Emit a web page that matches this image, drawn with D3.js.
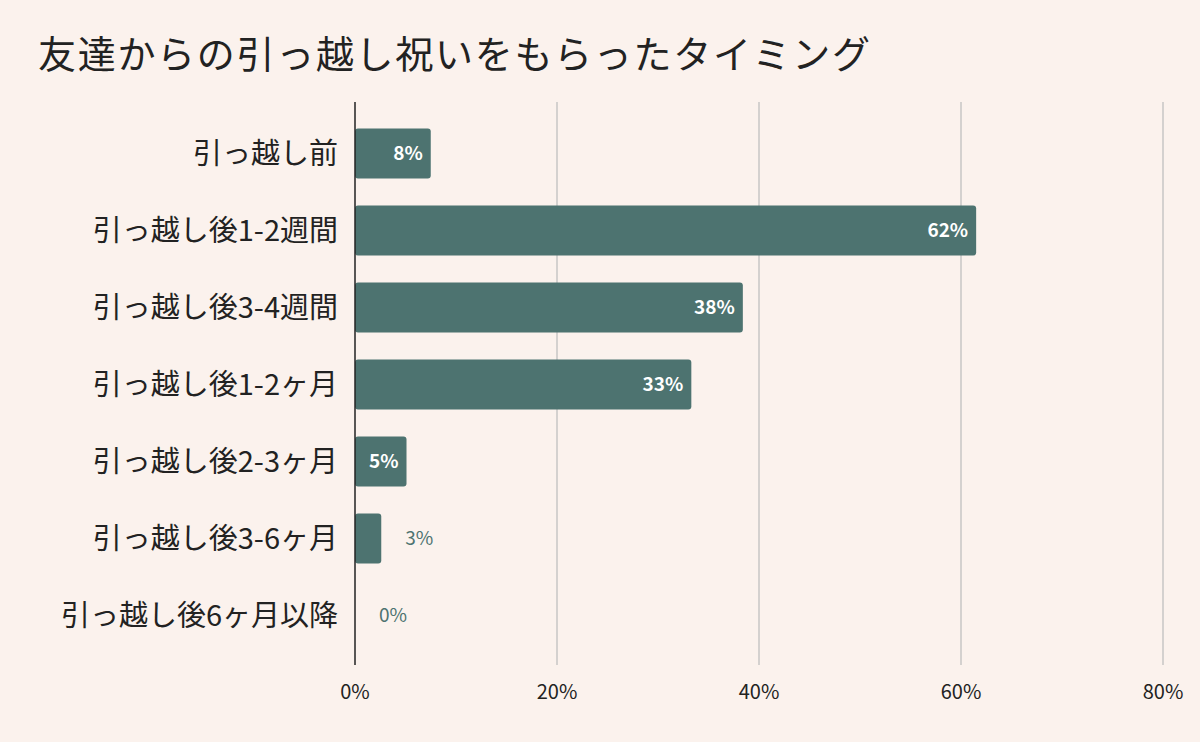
<!DOCTYPE html>
<html><head><meta charset="utf-8">
<script src="https://cdn.jsdelivr.net/npm/d3@7"></script>
<style>
body{margin:0;background:#fbf2ed;}
text{font-family:"Noto Sans CJK JP","Noto Sans",sans-serif;}
</style></head><body>
<div id="chart"></div>
<script>
const categories = ['引っ越し前','引っ越し後1-2週間','引っ越し後3-4週間','引っ越し後1-2ヶ月','引っ越し後2-3ヶ月','引っ越し後3-6ヶ月','引っ越し後6ヶ月以降'];
const values = [7.5, 61.5, 38.4, 33.3, 5.1, 2.6, 0];
const valueLabels = ['8%','62%','38%','33%','5%','3%','0%'];
const ticks = [0, 20, 40, 60, 80];
const title = '友達からの引っ越し祝いをもらったタイミング';

const W = 1200, H = 742;
const barColor = '#4d7370';
const svg = d3.select('#chart').append('svg').attr('width', W).attr('height', H);
svg.append('rect').attr('width', W).attr('height', H).attr('fill', '#fbf2ed');

svg.append('text').attr('x', 38).attr('y', 68).attr('font-size', 38)
  .attr('textLength', 832).attr('fill', '#222').text(title);

const x = d3.scaleLinear().domain([0, 80]).range([355, 1163]);
const y = d3.scaleBand().domain(categories).range([115, 654]).paddingInner(0.35).paddingOuter(0.175);

// gridlines
svg.selectAll('.grid').data(ticks.slice(1)).enter().append('line')
  .attr('x1', d => x(d)).attr('x2', d => x(d)).attr('y1', 102).attr('y2', 665)
  .attr('stroke', '#bbb').attr('stroke-width', 1.2);

// x axis labels
svg.selectAll('.tick').data(ticks).enter().append('text')
  .attr('x', d => x(d)).attr('y', 699).attr('text-anchor', 'middle')
  .attr('font-size', 20).attr('fill', '#222').text(d => d + '%');

// bars
svg.selectAll('.bar').data(values).enter().append('rect')
  .attr('x', x(0)).attr('y', (d, i) => y(categories[i]))
  .attr('width', d => x(d) - x(0)).attr('height', y.bandwidth())
  .attr('rx', 3).attr('fill', barColor);

// value labels
svg.selectAll('.val').data(values).enter().append('text')
  .attr('x', d => d >= 5 ? x(d) - 8 : x(d) + 24)
  .attr('y', (d, i) => y(categories[i]) + y.bandwidth() / 2)
  .attr('dy', '0.35em')
  .attr('text-anchor', d => d >= 5 ? 'end' : 'start')
  .attr('font-size', 19).attr('font-weight', d => d >= 5 ? 'bold' : 'normal')
  .attr('fill', d => d >= 5 ? '#fff' : barColor)
  .text((d, i) => valueLabels[i]);

// category labels
svg.selectAll('.cat').data(categories).enter().append('text')
  .attr('x', 338).attr('y', d => y(d) + y.bandwidth() / 2).attr('dy', '0.36em')
  .attr('text-anchor', 'end').attr('font-size', 29).attr('fill', '#222').text(d => d);

// y axis line
svg.append('line').attr('x1', x(0)).attr('x2', x(0)).attr('y1', 102).attr('y2', 665)
  .attr('stroke', '#222').attr('stroke-width', 1.5);
</script>
</body></html>
